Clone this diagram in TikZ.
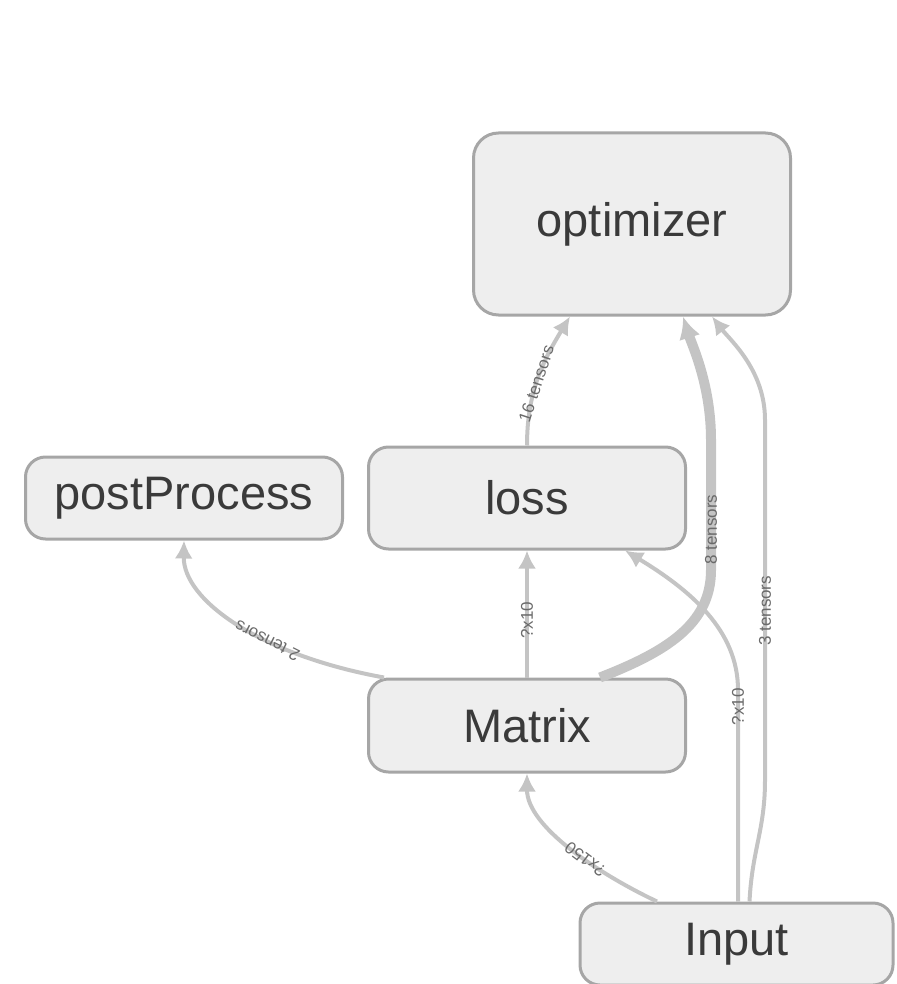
\documentclass[tikz,border=0pt]{standalone}
\usepackage{fontspec}
\setmainfont{Liberation Sans}
\usepackage{xcolor}
\usetikzlibrary{arrows.meta, positioning}
\definecolor{tfborder}{HTML}{A6A6A6}
\definecolor{tfnodebg}{HTML}{EEEEEE}
\definecolor{tfedge}{HTML}{C4C4C4}
\definecolor{tftext}{HTML}{3A3A3A}
\definecolor{tflabel}{HTML}{6A6A6A}
\tikzset{
  op/.style={rectangle, rounded corners=10pt, draw=tfborder, line width=1.5pt,
    fill=tfnodebg, text=tftext, align=center, minimum width=158.5pt,
    font=\fontsize{23.5}{28}\selectfont},
  ar/.style={-{Latex[length=9pt,width=9pt]}, line width=2pt, tfedge},
  thickar/.style={-{Latex[length=11pt,width=11pt]}, line width=5pt, tfedge},
  lbl/.style={font=\fontsize{8.5}{10}\selectfont, text=tflabel, sloped,
    allow upside down, inner sep=0pt},
}

\begin{document}
\begin{tikzpicture}[x=0.5pt, y=-0.5pt]
  \useasboundingbox (0,0) rectangle (896,984);
  \node[op, minimum height=51pt] (loss) at (527,498) {loss};
  \node[op, minimum height=91pt, rounded corners=12.5pt,
        above=64.5pt of loss, xshift=52.5pt] (optimizer) {optimizer};
  \node[op, minimum height=46.5pt, below=63.5pt of loss] (Matrix) {Matrix};
  \node[op, minimum height=41pt, left=11.5pt of loss] (postProcess) {postProcess};
  \node[op, minimum height=41pt, minimum width=156.5pt,
        below=64pt of Matrix, xshift=104.75pt] (Input) {Input};

  \draw[ar] (loss.north) .. controls (527,392) and (543,361) ..
    node[lbl, pos=0.45] {16 tensors} ([xshift=-31pt]optimizer.south);
  \draw[thickar] ([xshift=36.5pt]Matrix.north) .. controls (665,652) and (711,625) .. (711,570)
    -- node[lbl, pos=0.31] {8 tensors} (711,440)
    .. controls (711,385) and (692,345) .. ([xshift=25.5pt]optimizer.south);
  \draw[ar] ([xshift=6.5pt]Input.north) .. controls (752,850) and (765,830) .. (765,780)
    -- node[lbl, pos=0.47] {3 tensors} (765,420)
    .. controls (765,370) and (730,340) .. ([xshift=40pt]optimizer.south);
  \draw[ar] ([xshift=0.75pt]Input.north) -- node[lbl, pos=0.92] {?x10} (738,690)
    .. controls (738,630) and (690,590) .. ([xshift=49pt]loss.south);
  \draw[ar] (Matrix.north) -- node[lbl, pos=0.45] {?x10} (loss.south);
  \draw[ar] ([xshift=-39.75pt]Input.north) .. controls (597,873) and (527,826) ..
    node[lbl, pos=0.4] {?x150} (Matrix.south);
  \draw[ar] ([xshift=8.5pt]Matrix.north west) .. controls (260,655) and (183,600) ..
    node[lbl, pos=0.37] {2 tensors} (postProcess.south);
\end{tikzpicture}
\end{document}
